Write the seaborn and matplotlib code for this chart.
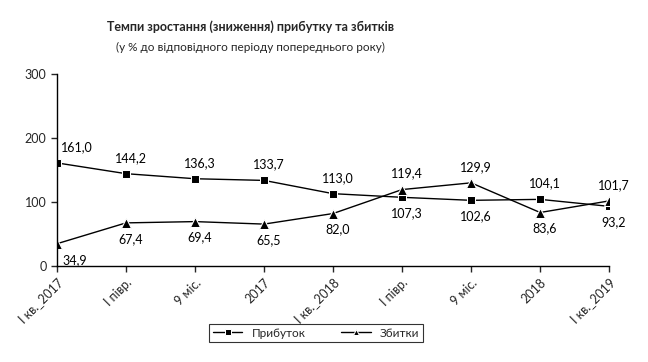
import numpy as np
import pandas as pd
import matplotlib
matplotlib.use("Agg")
import matplotlib.pyplot as plt
import seaborn as sns

# data
periods = ["І кв._2017", "І півр.", "9 міс.", "2017", "І кв._2018",
           "І півр. ", "9 міс. ", "2018 ", "І кв._2019"]
tick_labels = ["І кв._2017", "І півр.", "9 міс.", "2017", "І кв._2018",
               "І півр.", "9 міс.", "2018", "І кв._2019"]
profit = [161.0, 144.2, 136.3, 133.7, 113.0, 107.3, 102.6, 104.1, 93.2]
losses = [34.9, 67.4, 69.4, 65.5, 82.0, 119.4, 129.9, 83.6, 101.7]
series_names = ["Прибуток", "Збитки"]

# label placement: +1 above, -1 below
profit_side = [1, 1, 1, 1, 1, -1, -1, 1, -1]
losses_side = [-1, -1, -1, -1, -1, 1, 1, -1, 1]

df = pd.DataFrame({
    "x": list(range(len(periods))) * 2,
    "value": profit + losses,
    "series": [series_names[0]] * len(profit) + [series_names[1]] * len(losses),
})

sns.set_style("white")
plt.rcParams["font.family"] = ["Lato", "DejaVu Sans"]

fig = plt.figure(figsize=(6.48, 3.62), dpi=100)
ax = fig.add_axes([0.088, 0.265, 0.852, 0.531])

sns.lineplot(data=df, x="x", y="value", hue="series", style="series",
             palette=["black", "black"], markers={"Прибуток": "s", "Збитки": "^"},
             dashes=False, linewidth=1, markersize=6, ax=ax, legend=True)

for line in ax.lines:
    if line.get_marker() == "^":
        line.set_markersize(7.5)
    elif line.get_marker() == "s":
        line.set_markersize(5.5)

for vals, sides, first_dx in ((profit, profit_side, 20), (losses, losses_side, 18)):
    for i, (v, s) in enumerate(zip(vals, sides)):
        dx = first_dx if i == 0 else 5
        dy = 16 if s > 0 else -16
        ax.annotate(f"{v:.1f}".replace(".", ","), (i, v), xytext=(dx, dy),
                    textcoords="offset pixels", ha="center", va="center",
                    fontsize=9, color="black")

ax.set_xlim(0, len(periods) - 1)
ax.set_ylim(0, 300)
ax.set_yticks([0, 100, 200, 300])
ax.set_xticks(range(len(periods)))
ax.set_xticklabels(tick_labels, rotation=45, ha="right", rotation_mode="anchor",
                   fontsize=9)
ax.tick_params(axis="y", labelsize=9, length=4, direction="out", left=True, width=1)
ax.tick_params(axis="x", length=4, direction="out", bottom=True, width=1)
ax.set_xlabel("")
ax.set_ylabel("")
for side in ("top", "right"):
    ax.spines[side].set_visible(False)
for side in ("left", "bottom"):
    ax.spines[side].set_color("black")
    ax.spines[side].set_linewidth(1)

handles, labels = ax.get_legend_handles_labels()
ax.legend_.remove()
for h in handles:
    h.set_markersize(4)
leg = fig.legend(handles, labels, loc="center", bbox_to_anchor=(0.488, 0.08),
                 ncol=2, frameon=True, fancybox=False, edgecolor="black",
                 fontsize=8.5, handlelength=2.5, columnspacing=3,
                 borderpad=0.3)
leg.get_frame().set_linewidth(0.8)

title_font = ["Liberation Sans Narrow", "Lato", "DejaVu Sans"]
fig.text(0.387, 0.925, "Темпи зростання (зниження) прибутку та збитків",
         ha="center", va="center", fontsize=9, fontweight="bold",
         family=title_font)
fig.text(0.387, 0.87, "(у % до відповідного періоду попереднього року)",
         ha="center", va="center", fontsize=8.5, family=title_font)

fig.savefig("out.png", dpi=100)
